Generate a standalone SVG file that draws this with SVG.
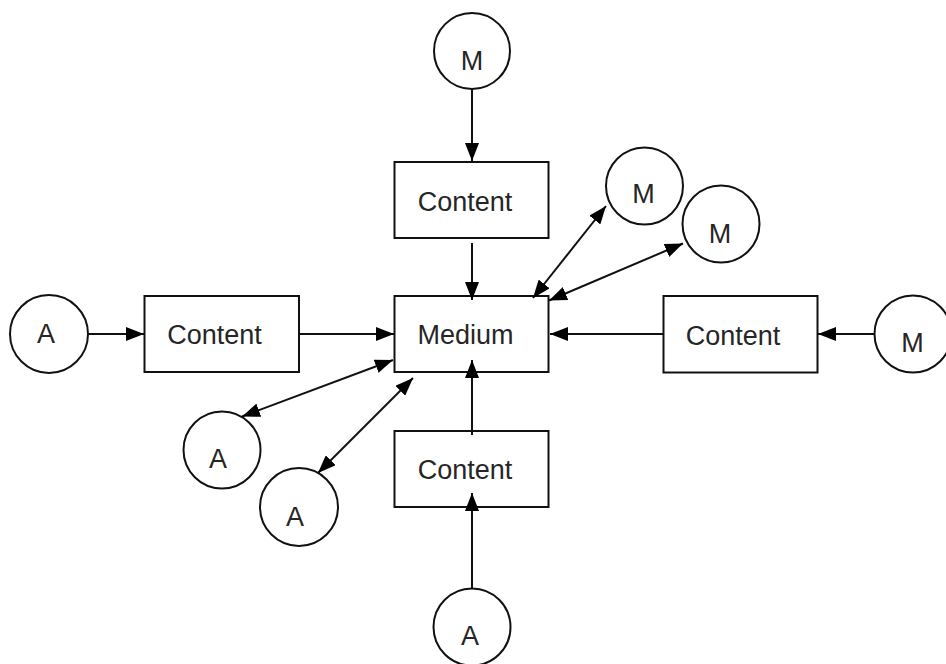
<svg xmlns="http://www.w3.org/2000/svg" width="946" height="664" viewBox="0 0 946 664">
<style>
.box{fill:#fff;stroke:#111;stroke-width:2}
.circ{fill:#fff;stroke:#111;stroke-width:2}
.lbl{font-family:"Liberation Sans",Arial,sans-serif;font-size:27px;fill:#262626;text-anchor:middle}
.ln{stroke:#111;stroke-width:2;fill:none;marker-end:url(#ah)}
.dbl{stroke:#111;stroke-width:2;fill:none;marker-end:url(#ah);marker-start:url(#ah)}
</style>
<defs>
<marker id="ah" viewBox="0 0 18 14" refX="18" refY="7" markerWidth="18" markerHeight="14" markerUnits="userSpaceOnUse" orient="auto-start-reverse">
<path d="M0,0 L18,7 L0,14 z" fill="#000"/>
</marker>
</defs>
<rect width="946" height="664" fill="#fff"/>
<g id="m-top"><circle class="circ" cx="472" cy="51" r="38"/><text class="lbl" x="472" y="70">M</text></g>
<g id="content-top"><rect class="box" x="394.5" y="162" width="154" height="76"/><text class="lbl" x="465" y="211">Content</text></g>
<g id="m-1"><circle class="circ" cx="644.5" cy="186" r="38.5"/><text class="lbl" x="643.5" y="203">M</text></g>
<g id="m-2"><circle class="circ" cx="721" cy="224" r="38.5"/><text class="lbl" x="720" y="243">M</text></g>
<g id="a-left"><circle class="circ" cx="49" cy="334" r="39"/><text class="lbl" x="46" y="343">A</text></g>
<g id="content-left"><rect class="box" x="144.5" y="296" width="154.5" height="76"/><text class="lbl" x="214.5" y="344">Content</text></g>
<g id="medium"><rect class="box" x="394.5" y="296" width="154" height="76"/><text class="lbl" x="465.5" y="344">Medium</text></g>
<g id="content-right"><rect class="box" x="663.5" y="296" width="154" height="76.5"/><text class="lbl" x="733" y="345">Content</text></g>
<g id="m-right"><circle class="circ" cx="913" cy="334" r="38.5"/><text class="lbl" x="912.5" y="352">M</text></g>
<g id="a-1"><circle class="circ" cx="222" cy="450" r="38.5"/><text class="lbl" x="218" y="468">A</text></g>
<g id="a-2"><circle class="circ" cx="299" cy="507" r="39"/><text class="lbl" x="295" y="526">A</text></g>
<g id="content-bottom"><rect class="box" x="394.5" y="431" width="154" height="76"/><text class="lbl" x="465" y="479">Content</text></g>
<g id="a-bottom"><circle class="circ" cx="472" cy="627" r="38.5"/><text class="lbl" x="470" y="645">A</text></g>
<g id="connectors">
<line class="ln" x1="472" y1="89" x2="472" y2="161"/>
<line class="ln" x1="472" y1="243" x2="472" y2="300"/>
<line class="ln" x1="88" y1="334" x2="144" y2="334"/>
<line class="ln" x1="299" y1="334" x2="394" y2="334"/>
<line class="ln" x1="874" y1="334" x2="818" y2="334"/>
<line class="ln" x1="663" y1="334" x2="550" y2="334"/>
<line class="ln" x1="472" y1="435" x2="472" y2="360"/>
<line class="ln" x1="472" y1="588" x2="472" y2="493"/>
<line class="dbl" x1="533" y1="298" x2="606" y2="206"/>
<line class="dbl" x1="549" y1="300.5" x2="683" y2="243.5"/>
<line class="dbl" x1="393" y1="360" x2="242" y2="416.5"/>
<line class="dbl" x1="413" y1="378" x2="318" y2="473"/>
</g>
</svg>
